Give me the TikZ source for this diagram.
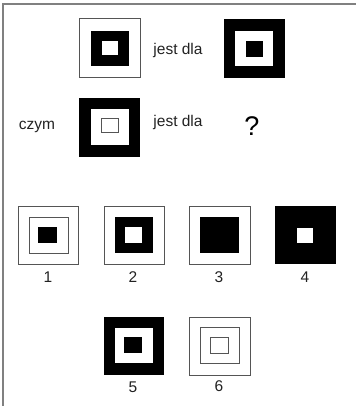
\documentclass[tikz,border=0pt]{standalone}
\usepackage{fontspec}
\setmainfont{Liberation Sans}
\definecolor{txt}{HTML}{222222}
\definecolor{edge}{HTML}{555555}
\definecolor{frm}{HTML}{808080}
\begin{document}
\begin{tikzpicture}[x=1pt,y=-1pt,
  frame/.style={draw=frm,line width=1.5pt},
  wbox/.style={draw=edge,line width=1pt,fill=white},
  bbox/.style={fill=black},
  lbl/.style={font=\fontsize{15.5}{18}\selectfont,text=txt,inner sep=0pt}]
\useasboundingbox (0,0) rectangle (356,406);
\draw[frame] (3,406) -- (3,4) -- (356,4);
% top row
\draw[wbox] (79,19) rectangle (140,78);
\fill[bbox] (91,31) rectangle (129,66);
\fill[white] (102,41) rectangle (118,55);
\node[lbl] (t1) at (178,50) {jest dla};
\fill[bbox] (224,19) rectangle (285,78);
\fill[white] (235,31) rectangle (273,66);
\fill[bbox] (246,41) rectangle (263,57);
% second row
\node[lbl] (t2) at (37,127) {czym};
\fill[bbox] (79,98) rectangle (140,157);
\fill[white] (91,109) rectangle (129,145);
\draw[wbox] (101,119) rectangle (118,133);
\node[lbl] (t3) at (178,122) {jest dla};
\node[lbl,text=black,font=\fontsize{27}{30}\selectfont] (q) at (252,126) {?};
% options row 1
\draw[wbox] (18,206) rectangle (78,264);
\draw[wbox] (29,217) rectangle (68,253);
\fill[bbox] (38,227) rectangle (57,243);
\node[lbl] (n1) at (48,277) {1};
\draw[wbox] (104,206) rectangle (164,264);
\fill[bbox] (115,217) rectangle (153,253);
\fill[white] (125,227) rectangle (142,243);
\node[lbl] (n2) at (133,277) {2};
\draw[wbox] (189,206) rectangle (250,264);
\fill[bbox] (200,217) rectangle (239,253);
\node[lbl] (n3) at (219,277) {3};
\fill[bbox] (275,206) rectangle (336,264);
\fill[white] (297,228) rectangle (313,243);
\node[lbl] (n4) at (305,277) {4};
% options row 2
\fill[bbox] (104,317) rectangle (164,375);
\fill[white] (115,328) rectangle (153,363);
\fill[bbox] (124,337) rectangle (142,353);
\node[lbl] (n5) at (133,387) {5};
\draw[wbox] (189,317) rectangle (250,375);
\draw[wbox] (200,327) rectangle (239,363);
\draw[wbox] (210,337) rectangle (228,353);
\node[lbl] (n6) at (219,386) {6};
\end{tikzpicture}
\end{document}
